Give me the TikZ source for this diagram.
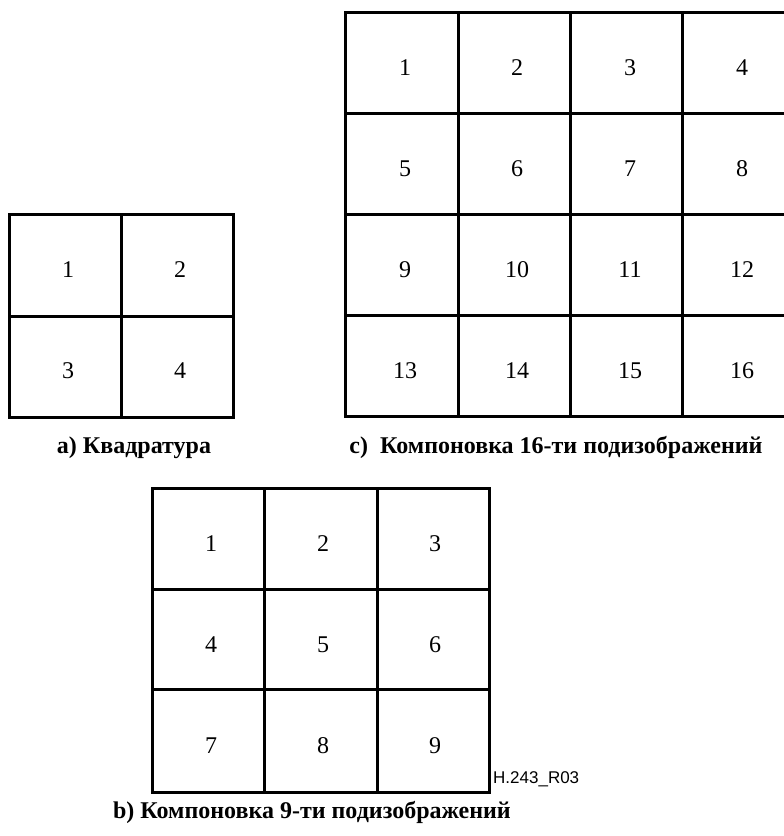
\documentclass[tikz,border=0pt]{standalone}
\usepackage{fontspec}
\setmainfont{Liberation Serif}
\newfontfamily\labelsans{Liberation Sans}
\begin{document}
\begin{tikzpicture}[x=1pt,y=-1pt,
  gridline/.style={line width=3pt,black},
  num/.style={font=\fontsize{24}{28}\selectfont,anchor=base,inner sep=0pt},
  figcaption/.style={font=\bfseries\fontsize{24}{28}\selectfont,anchor=base,inner sep=0pt},
  figcode/.style={font=\labelsans\fontsize{17}{20}\selectfont,anchor=base west,inner sep=0pt}]
\useasboundingbox (0,0) rectangle (784,836);
\clip (0,0) rectangle (784,836);
% ---- a) 2x2 grid
\draw[gridline] (9,214) rectangle (233,417);
\draw[gridline] (121,214) -- (121,417);
\draw[gridline] (9,316) -- (233,316);
\node[num] (a1) at (68,277) {1};
\node[num] (a2) at (180,277) {2};
\node[num] (a3) at (68,378) {3};
\node[num] (a4) at (180,378) {4};
\node[figcaption] (capa) at (134,453) {а) Квадратура};
% ---- c) 4x4 grid (right edge cut by the page)
\draw[gridline] (800,12) -- (345,12) -- (345,416) -- (800,416);
\foreach \x in {458,570,682} \draw[gridline] (\x,12) -- (\x,416);
\foreach \y in {113,214,315} \draw[gridline] (345,\y) -- (800,\y);
\foreach \r/\yy in {0/75,1/176,2/277,3/378}{
  \foreach \c/\xx in {1/405,2/517,3/630,4/742}{
    \pgfmathtruncatemacro{\n}{\r*4+\c}
    \node[num] (c\n) at (\xx,\yy) {\n};
  }
}
\node[figcaption] (capc) at (556,453) {с)\ \ Компоновка 16-ти подизображений};
% ---- b) 3x3 grid
\draw[gridline] (152,488) rectangle (489,792);
\foreach \x in {264,377} \draw[gridline] (\x,488) -- (\x,792);
\foreach \y in {589,689} \draw[gridline] (152,\y) -- (489,\y);
\foreach \r/\yy in {0/551,1/652,2/753}{
  \foreach \c/\xx in {1/211,2/323,3/435}{
    \pgfmathtruncatemacro{\n}{\r*3+\c}
    \node[num] (b\n) at (\xx,\yy) {\n};
  }
}
\node[figcode] (code) at (493,783) {H.243\_R03};
\node[figcaption] (capb) at (312,818) {b) Компоновка 9-ти подизображений};
\end{tikzpicture}
\end{document}
